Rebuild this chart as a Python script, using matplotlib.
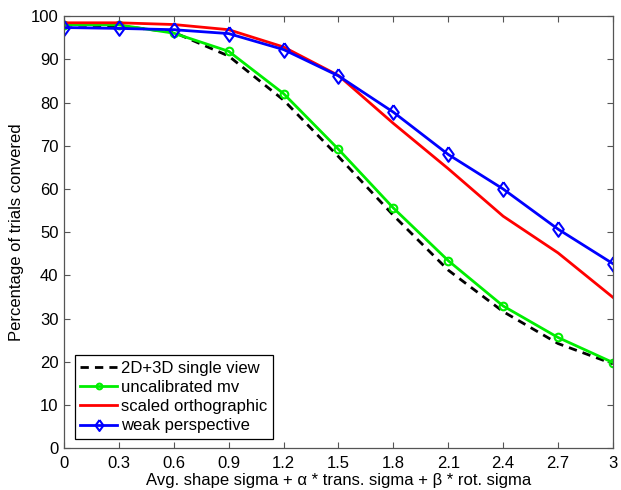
import numpy as np
import matplotlib
matplotlib.use("Agg")
import matplotlib.pyplot as plt

plt.rcParams["font.family"] = ["Liberation Sans", "DejaVu Sans"]

# noise level on the x axis
sigma = [0, 0.3, 0.6, 0.9, 1.2, 1.5, 1.8, 2.1, 2.4, 2.7, 3.0]
tick_labels = ["0", "0.3", "0.6", "0.9", "1.2", "1.5", "1.8", "2.1", "2.4", "2.7", "3"]

# percentage of trials converged per method
single_view = [98.0, 97.8, 96.3, 90.8, 80.6, 67.5, 53.9, 41.2, 31.6, 24.2, 19.5]
uncalibrated_mv = [98.1, 98.0, 96.1, 91.9, 82.1, 69.2, 55.6, 43.4, 32.9, 25.6, 19.8]
scaled_ortho = [98.5, 98.5, 98.1, 96.9, 92.9, 86.3, 75.2, 64.7, 53.7, 45.2, 34.9]
weak_persp = [97.4, 97.2, 96.9, 96.0, 92.3, 86.2, 77.8, 68.0, 60.0, 50.7, 42.7]

# MATLAB-style diamond (a bit wider than matplotlib's thin "d")
diamond = [(0, 1), (0.72, 0), (0, -1), (-0.72, 0), (0, 1)]

fig = plt.figure(figsize=(6.21, 4.9), dpi=100)
ax = fig.add_axes([0.103, 0.0857, 0.884, 0.881])

ax.plot(sigma, single_view, color="black", ls="--", lw=2, dashes=(3, 2.2),
        label="2D+3D single view")
ax.plot(sigma, uncalibrated_mv, color="#00ee00", lw=2, marker="o", ms=5.5,
        mfc="none", mew=1.5, label="uncalibrated mv")
ax.plot(sigma, scaled_ortho, color="red", lw=2, label="scaled orthographic")
ax.plot(sigma, weak_persp, color="blue", lw=2, marker=diamond, ms=10.5,
        mfc="none", mew=1.5, label="weak perspective")

ax.set_xlim(0, 3)
ax.set_ylim(0, 100)
ax.set_xticks(sigma)
ax.set_xticklabels(tick_labels)
ax.set_yticks(np.arange(0, 101, 10))
ax.tick_params(direction="in", top=True, right=True, labelsize=12,
               length=4, width=0.8, color="#555555", pad=4)
ax.tick_params(axis="x", pad=6)
for sp in ax.spines.values():
    sp.set_color("#555555")
    sp.set_linewidth(0.9)

ax.set_xlabel("Avg. shape sigma + α * trans. sigma + β * rot. sigma",
              fontsize=12, labelpad=1.5)
ax.set_ylabel("Percentage of trials convered", fontsize=12, labelpad=5)

leg = ax.legend(loc="lower left", fontsize=12, fancybox=False, framealpha=1,
                edgecolor="black", handlelength=2.2, borderpad=0.33,
                labelspacing=0.25, handletextpad=0.25, borderaxespad=0,
                markerscale=0.75, bbox_to_anchor=(0.02, 0.021))
leg.get_frame().set_linewidth(0.9)

fig.savefig("out.png", dpi=100)
